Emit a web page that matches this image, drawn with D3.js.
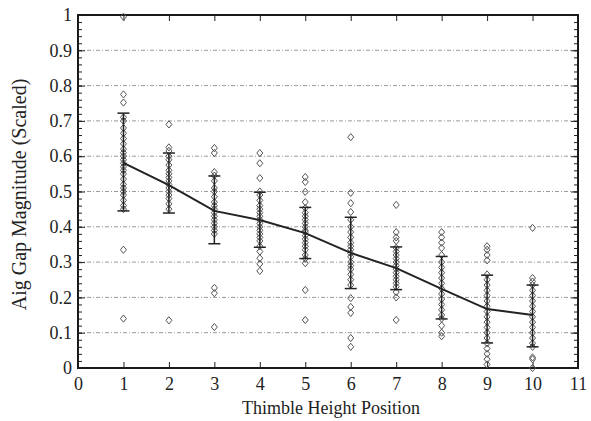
<!DOCTYPE html>
<html lang="en">
<head>
    <meta charset="UTF-8">
    <title>Aig Gap Magnitude vs Thimble Height Position</title>
    <script src="https://d3js.org/d3.v7.min.js"></script>
    <style>
        body { margin: 0; background: #fff; }
        svg text { font-family: 'Times New Roman', Times, 'Liberation Serif', 'DejaVu Serif', serif !important; fill: #222; }
    </style>
</head>
<body>
    <svg width="591" height="421"></svg>
    <script>
        // positions along the thimble and the summary per position
        const positions = [1, 2, 3, 4, 5, 6, 7, 8, 9, 10];
        const means = [0.581, 0.518, 0.445, 0.419, 0.382, 0.326, 0.283, 0.224, 0.167, 0.150];
        const errUpper = [0.722, 0.609, 0.544, 0.498, 0.455, 0.427, 0.343, 0.316, 0.263, 0.235];
        const errLower = [0.445, 0.439, 0.352, 0.342, 0.310, 0.225, 0.222, 0.139, 0.071, 0.060];

        // individual readings per position
        const pos1 = [0.995, 0.775, 0.752, 0.71, 0.70, 0.68, 0.665, 0.65, 0.635, 0.62, 0.61, 0.60, 0.59, 0.58, 0.57, 0.56, 0.55, 0.535, 0.52, 0.51, 0.50, 0.49, 0.475, 0.46, 0.45, 0.335, 0.14];
        const pos2 = [0.69, 0.625, 0.615, 0.60, 0.59, 0.575, 0.56, 0.55, 0.54, 0.53, 0.52, 0.51, 0.50, 0.49, 0.48, 0.465, 0.45, 0.135];
        const pos3 = [0.623, 0.609, 0.555, 0.545, 0.53, 0.51, 0.50, 0.485, 0.47, 0.46, 0.45, 0.44, 0.43, 0.42, 0.41, 0.40, 0.39, 0.38, 0.227, 0.212, 0.116];
        const pos4 = [0.609, 0.58, 0.538, 0.50, 0.49, 0.475, 0.46, 0.45, 0.44, 0.43, 0.42, 0.41, 0.40, 0.39, 0.38, 0.37, 0.36, 0.345, 0.33, 0.311, 0.295, 0.275];
        const pos5 = [0.541, 0.527, 0.499, 0.47, 0.453, 0.44, 0.43, 0.42, 0.41, 0.40, 0.39, 0.385, 0.375, 0.365, 0.355, 0.345, 0.335, 0.32, 0.31, 0.297, 0.221, 0.136];
        const pos6 = [0.654, 0.496, 0.467, 0.442, 0.42, 0.40, 0.385, 0.37, 0.355, 0.345, 0.335, 0.325, 0.315, 0.30, 0.29, 0.28, 0.265, 0.25, 0.235, 0.198, 0.173, 0.156, 0.085, 0.06];
        const pos7 = [0.462, 0.385, 0.37, 0.36, 0.34, 0.33, 0.32, 0.31, 0.30, 0.29, 0.28, 0.27, 0.26, 0.25, 0.24, 0.23, 0.215, 0.20, 0.136];
        const pos8 = [0.385, 0.37, 0.355, 0.34, 0.32, 0.30, 0.285, 0.27, 0.255, 0.24, 0.225, 0.21, 0.195, 0.18, 0.165, 0.15, 0.14, 0.12, 0.10, 0.09];
        const pos9 = [0.345, 0.335, 0.32, 0.305, 0.265, 0.25, 0.235, 0.22, 0.205, 0.19, 0.175, 0.16, 0.145, 0.13, 0.115, 0.10, 0.085, 0.07, 0.055, 0.04, 0.025, 0.01];
        const pos10 = [0.397, 0.255, 0.245, 0.235, 0.22, 0.205, 0.19, 0.175, 0.16, 0.145, 0.13, 0.115, 0.10, 0.085, 0.07, 0.06, 0.03, 0.025, 0.0];
        const readings = [pos1, pos2, pos3, pos4, pos5, pos6, pos7, pos8, pos9, pos10];

        const xTicks = d3.range(0, 12);
        const yTicks = [0, 0.1, 0.2, 0.3, 0.4, 0.5, 0.6, 0.7, 0.8, 0.9, 1];
        const yMinor = d3.range(0, 51).map(i => i / 50);

        var margin = {top: 15, right: 13, bottom: 53, left: 78},
            width = 591 - margin.left - margin.right,
            height = 421 - margin.top - margin.bottom,
            svg = d3.select("svg").append("g").attr("transform", "translate(" + margin.left + "," + margin.top + ")");

        var x = d3.scaleLinear().domain([0, 11]).range([0, width]);
        var y = d3.scaleLinear().domain([0, 1]).range([height, 0]);

        // dashed horizontal grid
        svg.selectAll(".grid")
            .data(yTicks.filter(v => v > 0 && v < 1))
            .enter().append("line")
            .attr("x1", 0).attr("x2", width)
            .attr("y1", d => y(d)).attr("y2", d => y(d))
            .attr("stroke", "#999")
            .attr("stroke-width", 1)
            .attr("stroke-dasharray", "4,2,1,2");

        // axes with inward ticks
        var fmt = d => d === 0 ? "0" : (d === 1 ? "1" : d3.format(".1f")(d));
        svg.append("g")
            .attr("transform", "translate(0," + height + ")")
            .call(d3.axisBottom(x).tickValues(xTicks).tickSize(-6).tickPadding(9).tickFormat(d3.format("d")))
            .call(g => g.select(".domain").remove())
            .selectAll("text").attr("font-size", 18);
        svg.append("g")
            .call(d3.axisTop(x).tickValues(xTicks).tickSize(-6).tickFormat(""))
            .call(g => g.select(".domain").remove());
        svg.append("g")
            .call(d3.axisLeft(y).tickValues(yTicks).tickSize(-7).tickPadding(6).tickFormat(fmt))
            .call(g => g.select(".domain").remove())
            .selectAll("text").attr("font-size", 18);
        svg.append("g")
            .call(d3.axisLeft(y).tickValues(yMinor).tickSize(-4).tickFormat(""))
            .call(g => g.select(".domain").remove());
        svg.append("g")
            .attr("transform", "translate(" + width + ",0)")
            .call(d3.axisRight(y).tickValues(yTicks).tickSize(-7).tickFormat(""))
            .call(g => g.select(".domain").remove());
        svg.append("g")
            .attr("transform", "translate(" + width + ",0)")
            .call(d3.axisRight(y).tickValues(yMinor).tickSize(-4).tickFormat(""))
            .call(g => g.select(".domain").remove());
        svg.selectAll(".tick line").attr("stroke", "#222");

        // frame
        svg.append("rect")
            .attr("width", width).attr("height", height)
            .attr("fill", "none").attr("stroke", "#1a1a1a").attr("stroke-width", 2);

        // individual readings as open diamonds (squarish, like the scan)
        var diamondShape = {
            draw: function(ctx, size) {
                var w = 3, h = 3.6;
                ctx.moveTo(0, -h); ctx.lineTo(w, 0); ctx.lineTo(0, h); ctx.lineTo(-w, 0); ctx.closePath();
            }
        };
        var diamond = d3.symbol().type(diamondShape);
        readings.forEach(function(vals, i) {
            svg.append("g").selectAll("path")
                .data(vals)
                .enter().append("path")
                .attr("d", diamond)
                .attr("transform", d => "translate(" + x(positions[i]) + "," + y(d) + ")")
                .attr("fill", "none")
                .attr("stroke", "#555")
                .attr("stroke-width", 1);
        });

        // error bars
        var capW = 6;
        positions.forEach(function(p, i) {
            var g = svg.append("g").attr("stroke", "#222").attr("stroke-width", 1.5);
            g.append("line").attr("x1", x(p)).attr("x2", x(p)).attr("y1", y(errUpper[i])).attr("y2", y(errLower[i]));
            g.append("line").attr("x1", x(p) - capW).attr("x2", x(p) + capW).attr("y1", y(errUpper[i])).attr("y2", y(errUpper[i]));
            g.append("line").attr("x1", x(p) - capW).attr("x2", x(p) + capW).attr("y1", y(errLower[i])).attr("y2", y(errLower[i]));
        });

        // mean line
        var line = d3.line().x((d, i) => x(positions[i])).y(d => y(d));
        svg.append("path")
            .datum(means)
            .attr("d", line)
            .attr("fill", "none")
            .attr("stroke", "#222")
            .attr("stroke-width", 2);

        // axis titles
        svg.append("text")
            .attr("x", width / 2 + 3).attr("y", height + 46)
            .attr("text-anchor", "middle")
            .attr("font-size", 18)
            .text("Thimble Height Position");
        svg.append("text")
            .attr("transform", "translate(" + (-52) + "," + (height / 2 + 3) + ") rotate(-90)")
            .attr("text-anchor", "middle")
            .attr("font-size", 20)
            .text("Aig Gap Magnitude (Scaled)");
    </script>
</body>
</html>
